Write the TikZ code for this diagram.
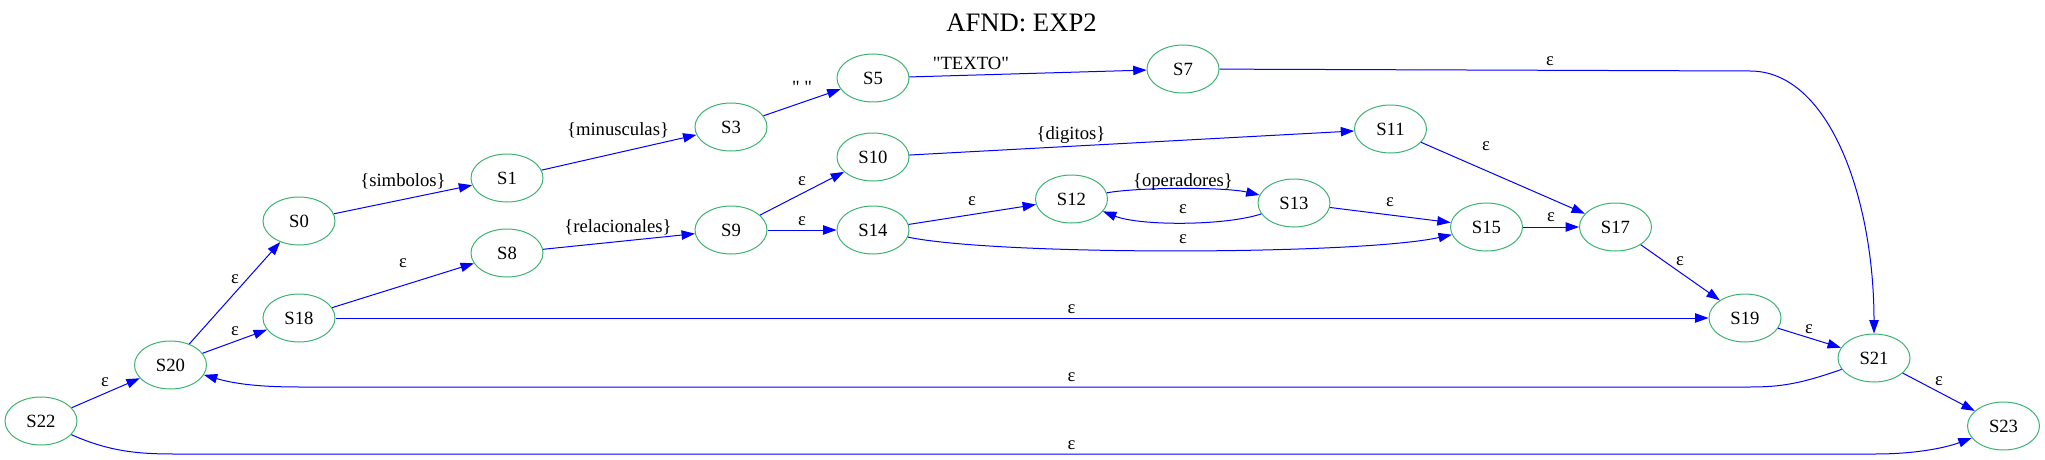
\documentclass[tikz,border=0pt]{standalone}
\usepackage{fontspec}
\setmainfont{Liberation Serif}
\usetikzlibrary{shapes.geometric,arrows.meta}
\definecolor{ngreen}{HTML}{3CB371}
\definecolor{eblue}{HTML}{0000FF}
\begin{document}
\begin{tikzpicture}[x=0.75pt,y=-0.75pt,
  st/.style={ellipse,draw=ngreen,line width=0.75pt,minimum width=54pt,minimum height=36pt,inner sep=0pt,font=\fontsize{14}{16}\selectfont},
  tr/.style={draw=eblue,line width=0.75pt,-{Triangle[length=10pt,width=7pt]}},
  lbl/.style={font=\fontsize{14}{16}\selectfont,inner sep=0pt}]
\useasboundingbox (0,0) rectangle (2045,460);
\node[font=\fontsize{20}{24}\selectfont,inner sep=0pt] (title) at (1021.5,23) {AFND: EXP2};
% states
\node[st] (S22) at (41,421) {S22};
\node[st] (S20) at (170.5,365) {S20};
\node[st] (S0) at (299,221) {S0};
\node[st] (S18) at (299,318) {S18};
\node[st] (S1) at (507,178) {S1};
\node[st] (S8) at (507,253) {S8};
\node[st] (S3) at (731,127) {S3};
\node[st] (S9) at (731,230) {S9};
\node[st] (S5) at (873,78) {S5};
\node[st] (S10) at (873,157) {S10};
\node[st] (S14) at (873,230) {S14};
\node[st] (S7) at (1183,69) {S7};
\node[st] (S12) at (1071.5,199) {S12};
\node[st] (S13) at (1294,203) {S13};
\node[st] (S11) at (1390.5,129) {S11};
\node[st] (S15) at (1486.5,227) {S15};
\node[st] (S17) at (1615.5,227) {S17};
\node[st] (S19) at (1745,318) {S19};
\node[st] (S21) at (1874,358) {S21};
\node[st] (S23) at (2003.5,426) {S23};
% straight transitions
\draw[tr] (S22) -- (S20);
\draw[tr] (S20) -- (S0);
\draw[tr] (S20) -- (S18);
\draw[tr] (S0) -- (S1);
\draw[tr] (S1) -- (S3);
\draw[tr] (S3) -- (S5);
\draw[tr] (S5) -- (S7);
\draw[tr] (S18) -- (S8);
\draw[tr] (S8) -- (S9);
\draw[tr] (S9) -- (S10);
\draw[tr] (S9) -- (S14);
\draw[tr] (S10) -- (S11);
\draw[tr] (S14) -- (S12);
\draw[tr] (S13) -- (S15);
\draw[tr] (S11) -- (S17);
\draw[tr] (S15) -- (S17);
\draw[tr] (S17) -- (S19);
\draw[tr] (S18) -- (S19);
\draw[tr] (S19) -- (S21);
\draw[tr] (S21) -- (S23);
% curved transitions
\draw[tr] (S7) -- (1750,71) .. controls (1830,71) and (1874,200) .. (S21);
\draw[tr] (S21) .. controls (1800,384) and (1780,387) .. (1750,387) -- (300,387) .. controls (260,387) and (235,384) .. (S20);
\draw[tr] (S22) .. controls (110,452) and (140,454) .. (175,454) -- (1875,454) .. controls (1915,454) and (1945,448) .. (S23);
\draw[tr] (S14) .. controls (1000,256) and (1360,255) .. (S15);
\draw[tr] (S12) .. controls (1140,187) and (1225,187) .. (S13);
\draw[tr] (S13) .. controls (1225,226) and (1140,226) .. (S12);
% labels
\node[lbl] (l1) at (403,181) {\{simbolos\}};
\node[lbl] (l2) at (618,130) {\{minusculas\}};
\node[lbl] (l3) at (802,87) {\textquotedbl\ \textquotedbl};
\node[lbl] (l4) at (971,63) {\textquotedbl TEXTO\textquotedbl};
\node[lbl] (l5) at (618,227) {\{relacionales\}};
\node[lbl] (l6) at (1071,135) {\{digitos\}};
\node[lbl] (l7) at (1183,182) {\{operadores\}};
\node[lbl] (e1) at (105,382) {ε};
\node[lbl] (e2) at (235,279) {ε};
\node[lbl] (e3) at (235,331) {ε};
\node[lbl] (e4) at (403,263) {ε};
\node[lbl] (e5) at (802,181) {ε};
\node[lbl] (e6) at (802,221) {ε};
\node[lbl] (e7) at (972,201) {ε};
\node[lbl] (e8) at (1183,209) {ε};
\node[lbl] (e9) at (1183,239) {ε};
\node[lbl] (e10) at (1071.5,309) {ε};
\node[lbl] (e11) at (1071.5,377) {ε};
\node[lbl] (e12) at (1071.5,445) {ε};
\node[lbl] (e13) at (1550,61) {ε};
\node[lbl] (e14) at (1486,146) {ε};
\node[lbl] (e15) at (1390,202) {ε};
\node[lbl] (e16) at (1551,217) {ε};
\node[lbl] (e17) at (1680,261) {ε};
\node[lbl] (e18) at (1809,329) {ε};
\node[lbl] (e19) at (1939,381) {ε};
\end{tikzpicture}
\end{document}
